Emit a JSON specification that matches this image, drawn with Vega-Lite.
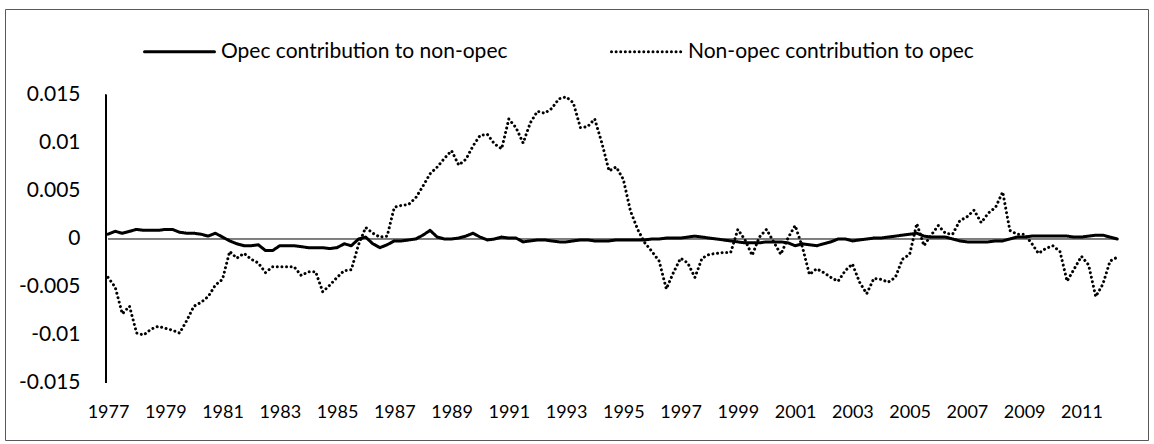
{
  "$schema": "https://vega.github.io/schema/vega-lite/v6.json",
  "width": 1143,
  "height": 431,
  "autosize": {"type": "none"},
  "padding": {"left": 5, "top": 9, "right": 6, "bottom": 4},
  "background": "white",
  "config": {"view": {"stroke": "#595959", "strokeWidth": 1}, "font": "Lato", "axis": {"title": null}},
  "data": {"values": [
    {"t":1977,"opec":0.0005,"nonopec":-0.0040},{"t":1977.25,"opec":0.0008,"nonopec":-0.0050},{"t":1977.5,"opec":0.0006,"nonopec":-0.0078},{"t":1977.75,"opec":0.0008,"nonopec":-0.0070},
    {"t":1978,"opec":0.0010,"nonopec":-0.0098},{"t":1978.25,"opec":0.0009,"nonopec":-0.0100},{"t":1978.5,"opec":0.0009,"nonopec":-0.0094},{"t":1978.75,"opec":0.0009,"nonopec":-0.0091},
    {"t":1979,"opec":0.0010,"nonopec":-0.0093},{"t":1979.25,"opec":0.0010,"nonopec":-0.0095},{"t":1979.5,"opec":0.0007,"nonopec":-0.0098},{"t":1979.75,"opec":0.0006,"nonopec":-0.0085},
    {"t":1980,"opec":0.0006,"nonopec":-0.0070},{"t":1980.25,"opec":0.0005,"nonopec":-0.0066},{"t":1980.5,"opec":0.0003,"nonopec":-0.0060},{"t":1980.75,"opec":0.0006,"nonopec":-0.0048},
    {"t":1981,"opec":0.0002,"nonopec":-0.0042},{"t":1981.25,"opec":-0.0002,"nonopec":-0.0013},{"t":1981.5,"opec":-0.0005,"nonopec":-0.0020},{"t":1981.75,"opec":-0.0007,"nonopec":-0.0015},
    {"t":1982,"opec":-0.0007,"nonopec":-0.0021},{"t":1982.25,"opec":-0.0006,"nonopec":-0.0025},{"t":1982.5,"opec":-0.0012,"nonopec":-0.0035},{"t":1982.75,"opec":-0.0012,"nonopec":-0.0029},
    {"t":1983,"opec":-0.0007,"nonopec":-0.0029},{"t":1983.25,"opec":-0.0007,"nonopec":-0.0029},{"t":1983.5,"opec":-0.0007,"nonopec":-0.0029},{"t":1983.75,"opec":-0.0008,"nonopec":-0.0038},
    {"t":1984,"opec":-0.0009,"nonopec":-0.0034},{"t":1984.25,"opec":-0.0009,"nonopec":-0.0034},{"t":1984.5,"opec":-0.0009,"nonopec":-0.0055},{"t":1984.75,"opec":-0.0010,"nonopec":-0.0048},
    {"t":1985,"opec":-0.0009,"nonopec":-0.0040},{"t":1985.25,"opec":-0.0005,"nonopec":-0.0033},{"t":1985.5,"opec":-0.0007,"nonopec":-0.0032},{"t":1985.75,"opec":0.0000,"nonopec":-0.0006},
    {"t":1986,"opec":0.0002,"nonopec":0.0012},{"t":1986.25,"opec":-0.0005,"nonopec":0.0006},{"t":1986.5,"opec":-0.0009,"nonopec":0.0002},{"t":1986.75,"opec":-0.0006,"nonopec":0.0003},
    {"t":1987,"opec":-0.0002,"nonopec":0.0033},{"t":1987.25,"opec":-0.0002,"nonopec":0.0035},{"t":1987.5,"opec":-0.0001,"nonopec":0.0036},{"t":1987.75,"opec":0.0000,"nonopec":0.0043},
    {"t":1988,"opec":0.0004,"nonopec":0.0055},{"t":1988.25,"opec":0.0009,"nonopec":0.0068},{"t":1988.5,"opec":0.0002,"nonopec":0.0075},{"t":1988.75,"opec":0.0000,"nonopec":0.0084},
    {"t":1989,"opec":0.0000,"nonopec":0.0092},{"t":1989.25,"opec":0.0001,"nonopec":0.0077},{"t":1989.5,"opec":0.0003,"nonopec":0.0083},{"t":1989.75,"opec":0.0006,"nonopec":0.0097},
    {"t":1990,"opec":0.0002,"nonopec":0.0108},{"t":1990.25,"opec":-0.0001,"nonopec":0.0109},{"t":1990.5,"opec":0.0000,"nonopec":0.0099},{"t":1990.75,"opec":0.0002,"nonopec":0.0094},
    {"t":1991,"opec":0.0001,"nonopec":0.0125},{"t":1991.25,"opec":0.0001,"nonopec":0.0116},{"t":1991.5,"opec":-0.0003,"nonopec":0.0100},{"t":1991.75,"opec":-0.0002,"nonopec":0.0121},
    {"t":1992,"opec":-0.0001,"nonopec":0.0133},{"t":1992.25,"opec":-0.0001,"nonopec":0.0131},{"t":1992.5,"opec":-0.0002,"nonopec":0.0136},{"t":1992.75,"opec":-0.0003,"nonopec":0.0146},
    {"t":1993,"opec":-0.0003,"nonopec":0.0148},{"t":1993.25,"opec":-0.0002,"nonopec":0.0142},{"t":1993.5,"opec":-0.0001,"nonopec":0.0116},{"t":1993.75,"opec":-0.0001,"nonopec":0.0117},
    {"t":1994,"opec":-0.0002,"nonopec":0.0125},{"t":1994.25,"opec":-0.0002,"nonopec":0.0100},{"t":1994.5,"opec":-0.0002,"nonopec":0.0071},{"t":1994.75,"opec":-0.0001,"nonopec":0.0075},
    {"t":1995,"opec":-0.0001,"nonopec":0.0062},{"t":1995.25,"opec":-0.0001,"nonopec":0.0029},{"t":1995.5,"opec":-0.0001,"nonopec":0.0010},{"t":1995.75,"opec":-0.0001,"nonopec":-0.0004},
    {"t":1996,"opec":0.0000,"nonopec":-0.0013},{"t":1996.25,"opec":0.0000,"nonopec":-0.0023},{"t":1996.5,"opec":0.0001,"nonopec":-0.0052},{"t":1996.75,"opec":0.0001,"nonopec":-0.0035},
    {"t":1997,"opec":0.0001,"nonopec":-0.0020},{"t":1997.25,"opec":0.0002,"nonopec":-0.0025},{"t":1997.5,"opec":0.0003,"nonopec":-0.0040},{"t":1997.75,"opec":0.0002,"nonopec":-0.0020},
    {"t":1998,"opec":0.0001,"nonopec":-0.0016},{"t":1998.25,"opec":0.0000,"nonopec":-0.0015},{"t":1998.5,"opec":-0.0001,"nonopec":-0.0014},{"t":1998.75,"opec":-0.0002,"nonopec":-0.0014},
    {"t":1999,"opec":-0.0003,"nonopec":0.0010},{"t":1999.25,"opec":-0.0004,"nonopec":-0.0001},{"t":1999.5,"opec":-0.0004,"nonopec":-0.0017},{"t":1999.75,"opec":-0.0004,"nonopec":0.0002},
    {"t":2000,"opec":-0.0003,"nonopec":0.0010},{"t":2000.25,"opec":-0.0003,"nonopec":-0.0003},{"t":2000.5,"opec":-0.0003,"nonopec":-0.0016},{"t":2000.75,"opec":-0.0004,"nonopec":0.0001},
    {"t":2001,"opec":-0.0007,"nonopec":0.0014},{"t":2001.25,"opec":-0.0005,"nonopec":-0.0008},{"t":2001.5,"opec":-0.0006,"nonopec":-0.0037},{"t":2001.75,"opec":-0.0007,"nonopec":-0.0031},
    {"t":2002,"opec":-0.0005,"nonopec":-0.0035},{"t":2002.25,"opec":-0.0003,"nonopec":-0.0040},{"t":2002.5,"opec":0.0000,"nonopec":-0.0044},{"t":2002.75,"opec":0.0000,"nonopec":-0.0033},
    {"t":2003,"opec":-0.0002,"nonopec":-0.0026},{"t":2003.25,"opec":-0.0001,"nonopec":-0.0045},{"t":2003.5,"opec":0.0000,"nonopec":-0.0057},{"t":2003.75,"opec":0.0001,"nonopec":-0.0041},
    {"t":2004,"opec":0.0001,"nonopec":-0.0042},{"t":2004.25,"opec":0.0002,"nonopec":-0.0045},{"t":2004.5,"opec":0.0003,"nonopec":-0.0040},{"t":2004.75,"opec":0.0004,"nonopec":-0.0021},
    {"t":2005,"opec":0.0005,"nonopec":-0.0016},{"t":2005.25,"opec":0.0006,"nonopec":0.0016},{"t":2005.5,"opec":0.0003,"nonopec":-0.0007},{"t":2005.75,"opec":0.0002,"nonopec":0.0004},
    {"t":2006,"opec":0.0002,"nonopec":0.0014},{"t":2006.25,"opec":0.0002,"nonopec":0.0006},{"t":2006.5,"opec":0.0000,"nonopec":0.0005},{"t":2006.75,"opec":-0.0002,"nonopec":0.0019},
    {"t":2007,"opec":-0.0003,"nonopec":0.0023},{"t":2007.25,"opec":-0.0003,"nonopec":0.0030},{"t":2007.5,"opec":-0.0003,"nonopec":0.0017},{"t":2007.75,"opec":-0.0003,"nonopec":0.0027},
    {"t":2008,"opec":-0.0002,"nonopec":0.0033},{"t":2008.25,"opec":-0.0002,"nonopec":0.0049},{"t":2008.5,"opec":0.0000,"nonopec":0.0009},{"t":2008.75,"opec":0.0002,"nonopec":0.0005},
    {"t":2009,"opec":0.0002,"nonopec":0.0005},{"t":2009.25,"opec":0.0003,"nonopec":-0.0004},{"t":2009.5,"opec":0.0003,"nonopec":-0.0015},{"t":2009.75,"opec":0.0003,"nonopec":-0.0010},
    {"t":2010,"opec":0.0003,"nonopec":-0.0007},{"t":2010.25,"opec":0.0003,"nonopec":-0.0013},{"t":2010.5,"opec":0.0003,"nonopec":-0.0044},{"t":2010.75,"opec":0.0002,"nonopec":-0.0031},
    {"t":2011,"opec":0.0002,"nonopec":-0.0018},{"t":2011.25,"opec":0.0003,"nonopec":-0.0027},{"t":2011.5,"opec":0.0004,"nonopec":-0.0060},{"t":2011.75,"opec":0.0004,"nonopec":-0.0047},
    {"t":2012,"opec":0.0002,"nonopec":-0.0023},{"t":2012.25,"opec":0.0000,"nonopec":-0.0019}
  ]},
  "layer": [
    {
      "mark": {"type": "rule", "color": "black", "strokeWidth": 1},
      "encoding": {
        "x": {"datum": 1976.93, "type": "quantitative"},
        "y": {"datum": -0.015, "type": "quantitative"},
        "y2": {"datum": 0.015}
      }
    },
    {
      "mark": {"type": "rule", "color": "black", "strokeWidth": 1},
      "encoding": {
        "x": {"field": "t", "aggregate": "min", "type": "quantitative"},
        "x2": {"field": "t", "aggregate": "max"},
        "y": {"datum": 0, "type": "quantitative"}
      }
    },
    {
      "transform": [{"fold": ["opec", "nonopec"], "as": ["series", "value"]}],
      "mark": {"type": "line", "color": "black", "strokeWidth": 3, "strokeCap": "round", "strokeJoin": "round"},
      "encoding": {
        "x": {
          "field": "t", "type": "quantitative",
          "scale": {"domain": [1973.4024, 2013.325], "nice": false, "zero": false},
          "axis": {
            "title": null, "orient": "bottom", "offset": -57,
            "values": [1977,1979,1981,1983,1985,1987,1989,1991,1993,1995,1997,1999,2001,2003,2005,2007,2009,2011],
            "format": "d", "domain": false, "ticks": false, "tickSize": 0, "grid": false,
            "labelPadding": 20, "labelFontSize": 18, "labelColor": "black", "labelFont": "Lato"
          }
        },
        "y": {
          "field": "value", "type": "quantitative",
          "scale": {"domain": [-0.0209375, 0.0239583], "nice": false, "zero": false},
          "axis": {
            "title": null, "orient": "left", "offset": -101,
            "values": [-0.015, -0.01, -0.005, 0, 0.005, 0.01, 0.015],
            "labelExpr": "'' + datum.value",
            "domain": false, "ticks": false, "tickSize": 0, "grid": false,
            "labelPadding": 26, "labelFontSize": 21, "labelColor": "black", "labelFont": "Lato"
          }
        },
        "detail": {"field": "series"},
        "strokeDash": {
          "field": "series", "type": "nominal",
          "scale": {"domain": ["opec", "nonopec"], "range": [[1, 0], [0.01, 4.6]]},
          "legend": {
            "title": null, "orient": "none", "legendX": 138, "legendY": 6,
            "direction": "horizontal", "padding": 0,
            "symbolType": "stroke", "symbolSize": 4900, "symbolStrokeWidth": 3,
            "symbolStrokeColor": "black",
            "labelFontSize": 21, "labelFont": "Lato", "labelColor": "black", "labelOffset": 5, "labelLimit": 600,
            "columnPadding": 97,
            "labelExpr": "datum.label == 'opec' ? 'Opec contribution to non-opec' : 'Non-opec contribution to opec'",
            "encode": {"symbols": {"update": {"strokeCap": {"value": "round"}}}}
          }
        }
      }
    }
  ]
}
